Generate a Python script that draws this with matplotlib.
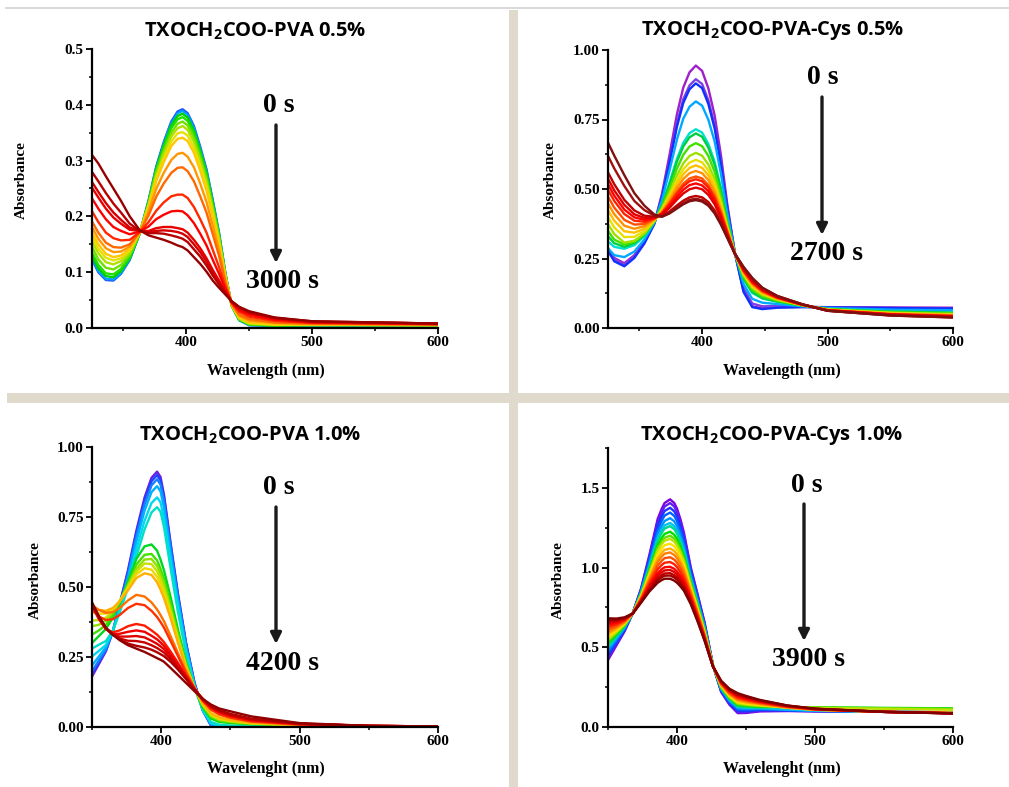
import matplotlib
matplotlib.use('Agg')
import matplotlib.pyplot as plt
from matplotlib.patches import Rectangle
from matplotlib.ticker import MultipleLocator, FormatStrFormatter

plt.rcParams['font.family'] = 'Liberation Serif'
plt.rcParams['font.weight'] = 'bold'
plt.rcParams['mathtext.fontset'] = 'custom'
plt.rcParams['mathtext.rm'] = 'Open Sans:bold'

W, H = 1009, 787

# ---- TXOCH2COO-PVA 0.5 % ----
wl_pva05 = [324, 330, 336, 342, 348, 355, 363, 370, 376, 382, 388, 393, 397, 401, 406, 411, 416, 421, 426, 431, 436, 442, 450, 470, 500, 600]
abs_pva05 = [
    [0.128, 0.100, 0.086, 0.085, 0.097, 0.122, 0.170, 0.229, 0.289, 0.333, 0.370, 0.388, 0.392, 0.385, 0.362, 0.325, 0.284, 0.229, 0.170, 0.098, 0.040, 0.014, 0.005, 0.004, 0.005, 0.005],
    [0.130, 0.102, 0.088, 0.087, 0.098, 0.123, 0.170, 0.228, 0.287, 0.331, 0.367, 0.385, 0.389, 0.382, 0.359, 0.322, 0.282, 0.227, 0.169, 0.098, 0.040, 0.014, 0.005, 0.004, 0.005, 0.005],
    [0.135, 0.107, 0.093, 0.091, 0.102, 0.125, 0.170, 0.227, 0.285, 0.327, 0.363, 0.380, 0.384, 0.377, 0.354, 0.318, 0.278, 0.224, 0.167, 0.097, 0.040, 0.015, 0.006, 0.004, 0.005, 0.005],
    [0.140, 0.113, 0.098, 0.096, 0.106, 0.127, 0.170, 0.225, 0.282, 0.323, 0.358, 0.374, 0.378, 0.371, 0.349, 0.313, 0.274, 0.221, 0.164, 0.096, 0.040, 0.015, 0.006, 0.005, 0.005, 0.005],
    [0.150, 0.123, 0.108, 0.105, 0.113, 0.131, 0.171, 0.223, 0.278, 0.317, 0.350, 0.366, 0.370, 0.363, 0.341, 0.306, 0.268, 0.216, 0.161, 0.095, 0.041, 0.016, 0.007, 0.005, 0.006, 0.005],
    [0.160, 0.134, 0.118, 0.114, 0.120, 0.135, 0.171, 0.221, 0.273, 0.311, 0.343, 0.358, 0.362, 0.355, 0.333, 0.299, 0.261, 0.211, 0.158, 0.093, 0.041, 0.017, 0.008, 0.006, 0.006, 0.005],
    [0.168, 0.142, 0.126, 0.121, 0.125, 0.139, 0.171, 0.219, 0.268, 0.304, 0.334, 0.349, 0.351, 0.345, 0.323, 0.291, 0.254, 0.205, 0.154, 0.092, 0.041, 0.018, 0.009, 0.006, 0.006, 0.005],
    [0.175, 0.150, 0.133, 0.127, 0.130, 0.142, 0.171, 0.216, 0.263, 0.297, 0.326, 0.339, 0.341, 0.335, 0.314, 0.282, 0.246, 0.199, 0.150, 0.090, 0.042, 0.019, 0.010, 0.007, 0.006, 0.006],
    [0.185, 0.160, 0.143, 0.136, 0.137, 0.146, 0.172, 0.209, 0.249, 0.278, 0.301, 0.312, 0.314, 0.307, 0.288, 0.259, 0.226, 0.183, 0.139, 0.086, 0.043, 0.022, 0.013, 0.009, 0.007, 0.006],
    [0.195, 0.171, 0.153, 0.145, 0.144, 0.150, 0.172, 0.202, 0.235, 0.259, 0.278, 0.287, 0.288, 0.281, 0.263, 0.236, 0.207, 0.168, 0.129, 0.082, 0.043, 0.024, 0.016, 0.010, 0.008, 0.006],
    [0.213, 0.190, 0.171, 0.161, 0.157, 0.158, 0.172, 0.190, 0.210, 0.225, 0.236, 0.239, 0.239, 0.233, 0.217, 0.195, 0.171, 0.140, 0.109, 0.074, 0.045, 0.029, 0.020, 0.013, 0.009, 0.007],
    [0.236, 0.214, 0.195, 0.181, 0.174, 0.168, 0.173, 0.182, 0.195, 0.203, 0.209, 0.210, 0.209, 0.202, 0.188, 0.169, 0.148, 0.122, 0.097, 0.070, 0.046, 0.032, 0.024, 0.015, 0.010, 0.007],
    [0.255, 0.234, 0.214, 0.198, 0.187, 0.176, 0.174, 0.174, 0.179, 0.181, 0.181, 0.179, 0.177, 0.171, 0.158, 0.143, 0.125, 0.104, 0.085, 0.065, 0.047, 0.035, 0.027, 0.017, 0.011, 0.008],
    [0.265, 0.244, 0.224, 0.207, 0.194, 0.180, 0.174, 0.172, 0.174, 0.175, 0.174, 0.172, 0.169, 0.163, 0.150, 0.136, 0.119, 0.099, 0.082, 0.064, 0.047, 0.036, 0.028, 0.018, 0.011, 0.008],
    [0.283, 0.263, 0.242, 0.223, 0.207, 0.187, 0.174, 0.170, 0.170, 0.169, 0.166, 0.163, 0.160, 0.154, 0.141, 0.128, 0.112, 0.094, 0.078, 0.062, 0.048, 0.037, 0.028, 0.018, 0.012, 0.008],
    [0.313, 0.295, 0.272, 0.250, 0.228, 0.200, 0.175, 0.166, 0.162, 0.158, 0.153, 0.148, 0.145, 0.139, 0.127, 0.115, 0.101, 0.085, 0.072, 0.060, 0.048, 0.038, 0.030, 0.019, 0.012, 0.008],
]
col_pva05 = ['#2050ff', '#00a0ff', '#00d000', '#20e000', '#70e000', '#b0e000', '#e8e000', '#ffc800',
             '#ff9800', '#ff6800', '#ff2800', '#ff0000', '#e80000', '#d40000', '#b80000', '#980000']

# ---- TXOCH2COO-PVA-Cys 0.5 % ----
wl_cys05 = [324, 330, 338, 346, 354, 362, 368, 374, 380, 385, 390, 395, 400, 405, 410, 415, 420, 426, 433, 440, 448, 460, 480, 500, 550, 600]
abs_cys05 = [
    [0.290, 0.252, 0.233, 0.262, 0.310, 0.378, 0.482, 0.622, 0.770, 0.865, 0.920, 0.944, 0.925, 0.862, 0.765, 0.622, 0.448, 0.273, 0.135, 0.078, 0.071, 0.075, 0.076, 0.075, 0.074, 0.073],
    [0.288, 0.248, 0.228, 0.258, 0.307, 0.376, 0.474, 0.601, 0.736, 0.823, 0.873, 0.895, 0.878, 0.819, 0.729, 0.597, 0.436, 0.272, 0.144, 0.088, 0.078, 0.079, 0.077, 0.074, 0.071, 0.069],
    [0.285, 0.240, 0.222, 0.252, 0.304, 0.375, 0.471, 0.594, 0.725, 0.810, 0.859, 0.880, 0.863, 0.806, 0.718, 0.589, 0.432, 0.272, 0.130, 0.075, 0.068, 0.073, 0.075, 0.074, 0.072, 0.070],
    [0.292, 0.262, 0.255, 0.275, 0.318, 0.380, 0.460, 0.566, 0.679, 0.753, 0.796, 0.815, 0.800, 0.749, 0.671, 0.555, 0.415, 0.272, 0.158, 0.105, 0.091, 0.086, 0.078, 0.072, 0.066, 0.064],
    [0.315, 0.292, 0.285, 0.298, 0.330, 0.382, 0.443, 0.523, 0.609, 0.666, 0.701, 0.715, 0.703, 0.662, 0.598, 0.504, 0.390, 0.271, 0.175, 0.126, 0.106, 0.094, 0.080, 0.069, 0.060, 0.056],
    [0.335, 0.305, 0.292, 0.305, 0.335, 0.383, 0.441, 0.516, 0.599, 0.653, 0.686, 0.700, 0.688, 0.649, 0.587, 0.496, 0.386, 0.270, 0.178, 0.129, 0.108, 0.095, 0.081, 0.068, 0.059, 0.055],
    [0.355, 0.318, 0.300, 0.310, 0.338, 0.384, 0.435, 0.501, 0.574, 0.623, 0.653, 0.665, 0.654, 0.619, 0.562, 0.478, 0.377, 0.270, 0.184, 0.137, 0.114, 0.098, 0.081, 0.068, 0.057, 0.053],
    [0.380, 0.338, 0.307, 0.314, 0.340, 0.385, 0.429, 0.486, 0.549, 0.592, 0.619, 0.630, 0.620, 0.588, 0.536, 0.460, 0.368, 0.270, 0.190, 0.144, 0.119, 0.101, 0.082, 0.067, 0.055, 0.050],
    [0.405, 0.362, 0.327, 0.328, 0.349, 0.387, 0.425, 0.475, 0.532, 0.571, 0.595, 0.605, 0.596, 0.567, 0.518, 0.447, 0.362, 0.269, 0.195, 0.149, 0.123, 0.103, 0.082, 0.066, 0.054, 0.048],
    [0.430, 0.386, 0.348, 0.343, 0.357, 0.389, 0.421, 0.466, 0.518, 0.553, 0.576, 0.585, 0.576, 0.549, 0.503, 0.436, 0.357, 0.269, 0.198, 0.154, 0.126, 0.105, 0.083, 0.065, 0.052, 0.047],
    [0.455, 0.409, 0.368, 0.357, 0.366, 0.391, 0.418, 0.458, 0.504, 0.536, 0.557, 0.565, 0.557, 0.532, 0.489, 0.426, 0.352, 0.269, 0.202, 0.158, 0.129, 0.106, 0.083, 0.065, 0.051, 0.046],
    [0.480, 0.433, 0.389, 0.372, 0.374, 0.393, 0.414, 0.449, 0.490, 0.519, 0.538, 0.545, 0.538, 0.514, 0.474, 0.416, 0.347, 0.269, 0.205, 0.162, 0.132, 0.108, 0.083, 0.064, 0.050, 0.044],
    [0.505, 0.457, 0.410, 0.386, 0.382, 0.395, 0.413, 0.445, 0.483, 0.510, 0.528, 0.535, 0.528, 0.505, 0.467, 0.411, 0.344, 0.269, 0.207, 0.164, 0.134, 0.109, 0.084, 0.064, 0.049, 0.043],
    [0.525, 0.476, 0.426, 0.398, 0.389, 0.396, 0.410, 0.438, 0.472, 0.497, 0.514, 0.520, 0.513, 0.492, 0.456, 0.403, 0.340, 0.269, 0.209, 0.167, 0.136, 0.110, 0.084, 0.064, 0.049, 0.042],
    [0.545, 0.495, 0.443, 0.409, 0.396, 0.398, 0.408, 0.432, 0.462, 0.484, 0.499, 0.505, 0.499, 0.479, 0.445, 0.395, 0.336, 0.268, 0.212, 0.171, 0.138, 0.111, 0.084, 0.063, 0.048, 0.041],
    [0.568, 0.517, 0.461, 0.423, 0.404, 0.400, 0.403, 0.419, 0.441, 0.458, 0.470, 0.475, 0.470, 0.453, 0.423, 0.380, 0.329, 0.268, 0.217, 0.177, 0.143, 0.114, 0.085, 0.062, 0.046, 0.039],
    [0.628, 0.574, 0.511, 0.457, 0.424, 0.404, 0.401, 0.414, 0.433, 0.449, 0.461, 0.465, 0.460, 0.444, 0.416, 0.374, 0.326, 0.268, 0.219, 0.179, 0.144, 0.115, 0.085, 0.062, 0.045, 0.038],
    [0.676, 0.620, 0.550, 0.485, 0.440, 0.408, 0.400, 0.412, 0.430, 0.445, 0.456, 0.460, 0.455, 0.440, 0.412, 0.372, 0.325, 0.268, 0.220, 0.180, 0.145, 0.115, 0.085, 0.062, 0.045, 0.038],
]
col_cys05 = ['#a020c8', '#8040e0', '#1030ff', '#00a8ff', '#00e0d0', '#00d040', '#40e000', '#a0e000', '#e8e000',
             '#ffc000', '#ff9000', '#ff5000', '#ff2000', '#ff0000', '#e00000', '#c00000', '#a01010', '#801010']

# ---- TXOCH2COO-PVA 1.0 % ----
wl_pva10 = [350, 355, 360, 365, 370, 376, 382, 388, 393, 397, 399.5, 402, 407, 412, 418, 424, 430, 436, 442, 450, 465, 500, 550, 600]
abs_pva10 = [
    [0.180, 0.225, 0.270, 0.340, 0.440, 0.560, 0.700, 0.820, 0.890, 0.912, 0.893, 0.830, 0.650, 0.480, 0.300, 0.160, 0.060, 0.005, 0.000, 0.000, 0.001, 0.001, 0.001, 0.001],
    [0.190, 0.232, 0.274, 0.341, 0.437, 0.553, 0.691, 0.809, 0.878, 0.900, 0.881, 0.819, 0.642, 0.474, 0.296, 0.158, 0.059, 0.006, 0.001, 0.001, 0.001, 0.001, 0.001, 0.001],
    [0.200, 0.238, 0.277, 0.340, 0.432, 0.543, 0.679, 0.795, 0.863, 0.885, 0.866, 0.805, 0.631, 0.466, 0.291, 0.155, 0.060, 0.008, 0.002, 0.002, 0.002, 0.002, 0.001, 0.001],
    [0.220, 0.252, 0.285, 0.341, 0.425, 0.533, 0.660, 0.773, 0.839, 0.860, 0.842, 0.783, 0.613, 0.453, 0.283, 0.151, 0.062, 0.010, 0.003, 0.002, 0.002, 0.002, 0.001, 0.001],
    [0.252, 0.272, 0.293, 0.341, 0.416, 0.513, 0.634, 0.737, 0.800, 0.820, 0.803, 0.746, 0.584, 0.432, 0.270, 0.146, 0.060, 0.014, 0.006, 0.004, 0.003, 0.002, 0.001, 0.001],
    [0.280, 0.294, 0.307, 0.343, 0.409, 0.497, 0.608, 0.706, 0.766, 0.785, 0.769, 0.715, 0.560, 0.413, 0.260, 0.142, 0.062, 0.018, 0.008, 0.005, 0.003, 0.002, 0.001, 0.001],
    [0.300, 0.325, 0.350, 0.390, 0.440, 0.520, 0.600, 0.645, 0.652, 0.630, 0.598, 0.560, 0.460, 0.350, 0.230, 0.140, 0.070, 0.030, 0.018, 0.014, 0.010, 0.006, 0.003, 0.002],
    [0.330, 0.345, 0.365, 0.400, 0.445, 0.510, 0.580, 0.615, 0.618, 0.595, 0.565, 0.530, 0.435, 0.335, 0.225, 0.140, 0.075, 0.035, 0.022, 0.017, 0.011, 0.006, 0.003, 0.002],
    [0.360, 0.365, 0.380, 0.410, 0.450, 0.505, 0.565, 0.598, 0.600, 0.575, 0.546, 0.512, 0.422, 0.325, 0.220, 0.140, 0.078, 0.040, 0.025, 0.019, 0.012, 0.006, 0.003, 0.002],
    [0.380, 0.382, 0.390, 0.415, 0.450, 0.500, 0.555, 0.584, 0.582, 0.556, 0.528, 0.495, 0.410, 0.318, 0.217, 0.140, 0.080, 0.043, 0.028, 0.021, 0.013, 0.007, 0.003, 0.002],
    [0.410, 0.405, 0.405, 0.420, 0.450, 0.495, 0.545, 0.567, 0.562, 0.536, 0.509, 0.477, 0.398, 0.310, 0.214, 0.140, 0.082, 0.046, 0.031, 0.023, 0.014, 0.007, 0.003, 0.002],
    [0.425, 0.418, 0.415, 0.425, 0.448, 0.488, 0.532, 0.549, 0.543, 0.517, 0.491, 0.460, 0.385, 0.302, 0.211, 0.140, 0.084, 0.049, 0.034, 0.025, 0.015, 0.007, 0.003, 0.002],
    [0.435, 0.418, 0.408, 0.410, 0.425, 0.452, 0.472, 0.466, 0.445, 0.420, 0.400, 0.378, 0.322, 0.265, 0.197, 0.140, 0.093, 0.061, 0.044, 0.032, 0.019, 0.008, 0.003, 0.002],
    [0.420, 0.395, 0.382, 0.385, 0.400, 0.425, 0.440, 0.435, 0.415, 0.393, 0.375, 0.355, 0.305, 0.254, 0.192, 0.138, 0.094, 0.063, 0.046, 0.034, 0.020, 0.009, 0.003, 0.002],
    [0.432, 0.385, 0.350, 0.338, 0.345, 0.360, 0.368, 0.362, 0.345, 0.330, 0.317, 0.303, 0.268, 0.230, 0.183, 0.137, 0.097, 0.068, 0.051, 0.038, 0.023, 0.010, 0.004, 0.002],
    [0.436, 0.388, 0.350, 0.332, 0.333, 0.340, 0.345, 0.340, 0.326, 0.313, 0.302, 0.290, 0.258, 0.224, 0.180, 0.136, 0.098, 0.070, 0.053, 0.040, 0.025, 0.011, 0.004, 0.002],
    [0.439, 0.390, 0.351, 0.330, 0.323, 0.323, 0.325, 0.320, 0.308, 0.297, 0.288, 0.278, 0.250, 0.218, 0.177, 0.135, 0.099, 0.072, 0.055, 0.042, 0.026, 0.011, 0.004, 0.002],
    [0.441, 0.392, 0.352, 0.330, 0.316, 0.308, 0.307, 0.302, 0.292, 0.282, 0.274, 0.266, 0.241, 0.212, 0.174, 0.134, 0.100, 0.074, 0.057, 0.044, 0.028, 0.012, 0.004, 0.002],
    [0.443, 0.394, 0.354, 0.330, 0.312, 0.298, 0.290, 0.284, 0.276, 0.267, 0.260, 0.253, 0.232, 0.206, 0.171, 0.133, 0.101, 0.076, 0.060, 0.047, 0.030, 0.012, 0.004, 0.002],
    [0.445, 0.395, 0.355, 0.330, 0.310, 0.292, 0.280, 0.268, 0.256, 0.246, 0.240, 0.233, 0.210, 0.186, 0.157, 0.128, 0.100, 0.080, 0.066, 0.056, 0.038, 0.014, 0.004, 0.002],
]
col_pva10 = ['#6a1ee0', '#2040ff', '#1480ff', '#00b0ff', '#00d8f0', '#00e0c8', '#00d820', '#40e000', '#90e000', '#c8e000',
             '#f0d800', '#ffb000', '#ff7000', '#ff3000', '#ff1a00', '#f00000', '#e00000', '#c80000', '#b00000', '#900000']

# ---- TXOCH2COO-PVA-Cys 1.0 % ----
wl_cys10 = [350, 356, 362, 368, 374, 380, 386, 389, 391, 395, 398, 400, 402.5, 405, 410, 415, 420, 426, 432, 438, 444, 450, 460, 480, 500, 550, 600]
abs_cys10 = [
    [0.420, 0.510, 0.600, 0.715, 0.870, 1.080, 1.305, 1.370, 1.405, 1.428, 1.405, 1.370, 1.303, 1.220, 1.000, 0.830, 0.655, 0.390, 0.220, 0.140, 0.087, 0.088, 0.098, 0.100, 0.098, 0.095, 0.093],
    [0.432, 0.518, 0.604, 0.715, 0.866, 1.069, 1.287, 1.349, 1.383, 1.405, 1.383, 1.349, 1.284, 1.203, 0.989, 0.822, 0.650, 0.390, 0.223, 0.145, 0.093, 0.093, 0.101, 0.102, 0.099, 0.095, 0.093],
    [0.448, 0.528, 0.609, 0.715, 0.860, 1.056, 1.263, 1.323, 1.355, 1.375, 1.353, 1.321, 1.258, 1.181, 0.976, 0.812, 0.643, 0.389, 0.227, 0.151, 0.100, 0.099, 0.106, 0.104, 0.100, 0.095, 0.092],
    [0.464, 0.538, 0.615, 0.714, 0.855, 1.042, 1.238, 1.295, 1.326, 1.345, 1.324, 1.292, 1.233, 1.159, 0.962, 0.802, 0.636, 0.388, 0.232, 0.157, 0.108, 0.106, 0.110, 0.106, 0.101, 0.095, 0.092],
    [0.482, 0.550, 0.621, 0.714, 0.849, 1.025, 1.210, 1.264, 1.292, 1.310, 1.290, 1.260, 1.203, 1.133, 0.945, 0.790, 0.628, 0.388, 0.237, 0.164, 0.117, 0.113, 0.115, 0.108, 0.102, 0.095, 0.091],
    [0.498, 0.560, 0.626, 0.714, 0.843, 1.012, 1.186, 1.237, 1.264, 1.280, 1.260, 1.232, 1.178, 1.112, 0.932, 0.780, 0.621, 0.387, 0.241, 0.170, 0.124, 0.120, 0.119, 0.110, 0.103, 0.095, 0.091],
    [0.508, 0.567, 0.630, 0.714, 0.840, 1.002, 1.170, 1.219, 1.245, 1.260, 1.241, 1.213, 1.161, 1.097, 0.922, 0.773, 0.616, 0.387, 0.244, 0.174, 0.129, 0.124, 0.122, 0.124, 0.121, 0.118, 0.115],
    [0.527, 0.579, 0.636, 0.714, 0.833, 0.986, 1.142, 1.187, 1.211, 1.225, 1.206, 1.180, 1.131, 1.071, 0.906, 0.761, 0.608, 0.386, 0.249, 0.181, 0.138, 0.132, 0.127, 0.126, 0.123, 0.120, 0.117],
    [0.540, 0.588, 0.640, 0.714, 0.829, 0.975, 1.122, 1.165, 1.187, 1.200, 1.182, 1.157, 1.110, 1.053, 0.895, 0.752, 0.602, 0.385, 0.252, 0.186, 0.144, 0.137, 0.131, 0.126, 0.122, 0.118, 0.114],
    [0.550, 0.595, 0.644, 0.713, 0.825, 0.965, 1.106, 1.147, 1.168, 1.180, 1.163, 1.138, 1.093, 1.038, 0.885, 0.745, 0.598, 0.385, 0.255, 0.190, 0.149, 0.141, 0.134, 0.125, 0.120, 0.114, 0.108],
    [0.566, 0.605, 0.649, 0.713, 0.820, 0.952, 1.082, 1.120, 1.140, 1.150, 1.133, 1.111, 1.068, 1.016, 0.872, 0.735, 0.591, 0.384, 0.259, 0.196, 0.157, 0.148, 0.138, 0.120, 0.107, 0.095, 0.089],
    [0.582, 0.615, 0.654, 0.713, 0.814, 0.938, 1.058, 1.093, 1.111, 1.120, 1.104, 1.083, 1.043, 0.994, 0.858, 0.725, 0.584, 0.384, 0.263, 0.202, 0.164, 0.154, 0.142, 0.122, 0.109, 0.095, 0.088],
    [0.595, 0.624, 0.659, 0.713, 0.810, 0.926, 1.037, 1.070, 1.087, 1.095, 1.079, 1.059, 1.021, 0.976, 0.846, 0.716, 0.578, 0.383, 0.267, 0.207, 0.171, 0.160, 0.146, 0.123, 0.109, 0.095, 0.088],
    [0.611, 0.634, 0.664, 0.713, 0.804, 0.912, 1.013, 1.043, 1.059, 1.065, 1.050, 1.031, 0.996, 0.954, 0.832, 0.706, 0.571, 0.383, 0.271, 0.213, 0.178, 0.166, 0.150, 0.126, 0.110, 0.095, 0.087],
    [0.627, 0.644, 0.669, 0.713, 0.799, 0.899, 0.989, 1.017, 1.030, 1.035, 1.021, 1.003, 0.971, 0.932, 0.819, 0.696, 0.564, 0.382, 0.275, 0.219, 0.186, 0.172, 0.155, 0.128, 0.111, 0.095, 0.087],
    [0.642, 0.654, 0.675, 0.712, 0.794, 0.885, 0.965, 0.990, 1.002, 1.005, 0.992, 0.975, 0.946, 0.910, 0.805, 0.686, 0.557, 0.382, 0.279, 0.225, 0.193, 0.179, 0.159, 0.130, 0.112, 0.095, 0.086],
    [0.653, 0.661, 0.678, 0.712, 0.790, 0.875, 0.949, 0.971, 0.982, 0.985, 0.972, 0.956, 0.928, 0.895, 0.795, 0.679, 0.553, 0.381, 0.282, 0.229, 0.198, 0.183, 0.162, 0.131, 0.113, 0.095, 0.086],
    [0.664, 0.668, 0.682, 0.712, 0.786, 0.866, 0.933, 0.953, 0.963, 0.965, 0.952, 0.938, 0.912, 0.881, 0.786, 0.672, 0.548, 0.381, 0.285, 0.233, 0.203, 0.188, 0.165, 0.133, 0.114, 0.095, 0.086],
    [0.672, 0.673, 0.684, 0.712, 0.784, 0.859, 0.921, 0.940, 0.949, 0.950, 0.938, 0.924, 0.899, 0.870, 0.779, 0.667, 0.545, 0.380, 0.287, 0.236, 0.207, 0.191, 0.167, 0.134, 0.114, 0.095, 0.085],
    [0.682, 0.680, 0.688, 0.712, 0.780, 0.850, 0.905, 0.922, 0.930, 0.930, 0.918, 0.905, 0.882, 0.855, 0.770, 0.660, 0.540, 0.380, 0.290, 0.240, 0.212, 0.195, 0.170, 0.135, 0.115, 0.095, 0.085],
]
col_cys10 = ['#8000e0', '#6020f0', '#2030ff', '#0060ff', '#0090ff', '#00c0f0', '#00d890', '#00e000', '#60e000', '#c0e000',
             '#ffe000', '#ffb000', '#ff8000', '#ff5000', '#ff2000', '#ff0000', '#e00000', '#c00000', '#a00000', '#800000']

titles = ['TXOCH$\\mathrm{_2}$COO-PVA 0.5%', 'TXOCH$\\mathrm{_2}$COO-PVA-Cys 0.5%',
          'TXOCH$\\mathrm{_2}$COO-PVA 1.0%', 'TXOCH$\\mathrm{_2}$COO-PVA-Cys 1.0%']
xlabels = ['Wavelength (nm)', 'Wavelength (nm)', 'Wavelenght (nm)', 'Wavelenght (nm)']
end_times = ['3000 s', '2700 s', '4200 s', '3900 s']


def fx(x):
    return x / W


def fy(y):
    return 1 - y / H


fig = plt.figure(figsize=(W / 100, H / 100), dpi=100)

# beige frame lines of the composite
fig.add_artist(Rectangle((fx(5), fy(8.6)), 1, 1.2 / H, transform=fig.transFigure, color='#d9d9d9', lw=0))
fig.add_artist(Rectangle((fx(7), fy(403)), 1, 10 / H, transform=fig.transFigure, color='#e0dacd', lw=0))
fig.add_artist(Rectangle((fx(509), 0), 9 / W, fy(9.5), transform=fig.transFigure, color='#e0dacd', lw=0))

panels = [
    dict(wl=wl_pva05, data=abs_pva05, cols=col_pva05, box=(92, 49, 438, 328), xlim=(325, 600),
         ylim=(0, 0.5), ymaj=0.1, ymin=0.05, fmt='%.1f',
         title=(255, 31), t0=(279, 106), arrow=(276, 125, 263), t1=(282, 281), xl=(266, 371), yl=(21, 180)),
    dict(wl=wl_cys05, data=abs_cys05, cols=col_cys05, box=(608, 50, 953, 328), xlim=(325, 600),
         ylim=(0, 1.0), ymaj=0.25, ymin=0.125, fmt='%.2f',
         title=(773, 31), t0=(823, 77), arrow=(822, 97, 235), t1=(827, 253), xl=(782, 371), yl=(550, 180)),
    dict(wl=wl_pva10, data=abs_pva10, cols=col_pva10, box=(92, 447, 438, 727), xlim=(350, 600),
         ylim=(0, 1.0), ymaj=0.25, ymin=0.125, fmt='%.2f',
         title=(250, 435), t0=(279, 488), arrow=(276, 507, 644), t1=(282, 663), xl=(266, 769), yl=(35, 580)),
    dict(wl=wl_cys10, data=abs_cys10, cols=col_cys10, box=(608, 448, 953, 727), xlim=(350, 600),
         ylim=(0, 1.75), ymaj=0.5, ymin=0.25, fmt='%.1f',
         title=(772, 435), t0=(807, 486), arrow=(804, 504, 641), t1=(809, 659), xl=(782, 769), yl=(558, 580)),
]

for i, p in enumerate(panels):
    l, t, r, b = p['box']
    ax = fig.add_axes([fx(l), fy(b), (r - l) / W, (b - t) / H])
    for spec, c in zip(p['data'], p['cols']):
        ax.plot(p['wl'], spec, color=c, lw=1.7, solid_joinstyle='round')
    ax.set_xlim(*p['xlim'])
    ax.set_ylim(*p['ylim'])
    ax.spines['top'].set_visible(False)
    ax.spines['right'].set_visible(False)
    ax.spines['left'].set_linewidth(1.6)
    ax.spines['bottom'].set_linewidth(1.6)
    ax.xaxis.set_major_locator(MultipleLocator(100))
    ax.xaxis.set_minor_locator(MultipleLocator(50))
    ax.yaxis.set_major_locator(MultipleLocator(p['ymaj']))
    ax.yaxis.set_minor_locator(MultipleLocator(p['ymin']))
    ax.yaxis.set_major_formatter(FormatStrFormatter(p['fmt']))
    ax.tick_params(which='major', direction='out', length=4, width=1.3, labelsize=11, pad=2)
    ax.tick_params(which='minor', direction='out', length=2.5, width=1.1)

    fig.text(fx(p['title'][0]), fy(p['title'][1]), titles[i], ha='center', va='center',
             family='Open Sans', weight='bold', fontsize=14.5)
    fig.text(fx(p['xl'][0]), fy(p['xl'][1]), xlabels[i], ha='center', va='center', fontsize=11.5)
    fig.text(fx(p['yl'][0]), fy(p['yl'][1]), 'Absorbance', ha='center', va='center', fontsize=11, rotation=90)
    fig.text(fx(p['t0'][0]), fy(p['t0'][1]), '0 s', ha='center', va='center', fontsize=20)
    fig.text(fx(p['t1'][0]), fy(p['t1'][1]), end_times[i], ha='center', va='center', fontsize=20)
    ax_x, y0, y1 = p['arrow']
    ax.annotate('', xy=(fx(ax_x), fy(y1)), xytext=(fx(ax_x), fy(y0)),
                xycoords='figure fraction', textcoords='figure fraction',
                arrowprops=dict(arrowstyle='-|>', color='#1a1a1a', lw=2.4, mutation_scale=16,
                                shrinkA=0, shrinkB=0))

fig.savefig('out.png', dpi=100)
